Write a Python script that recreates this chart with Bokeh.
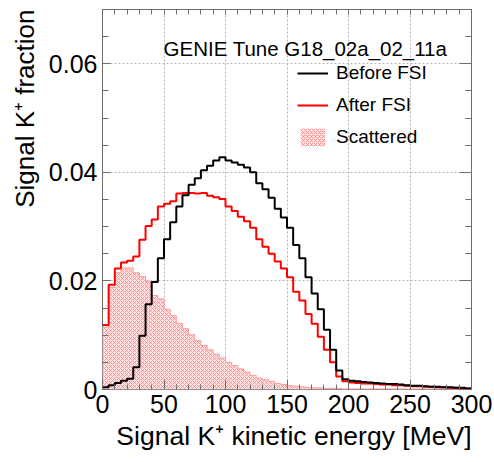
import math
import numpy as np
from bokeh.plotting import figure
from bokeh.models import (LinearAxis, SingleIntervalTicker, CustomJSTickFormatter,
                          Legend, LegendItem, Label, Range1d, Title)
from bokeh.embed import file_html
from bokeh.resources import INLINE

# ---- data: 60 bins of 5 MeV from 0 to 300 MeV ----
bin_edges = list(range(0, 305, 5))

before_fsi = [0.0004, 0.0008, 0.0012, 0.0016, 0.0020, 0.0041, 0.0099, 0.0157, 0.0198, 0.0242,
              0.0277, 0.0308, 0.0337, 0.0358, 0.0377, 0.0389, 0.0404, 0.0412, 0.0422, 0.0428,
              0.0422, 0.0418, 0.0414, 0.0409, 0.0400, 0.0380, 0.0369, 0.0353, 0.0333, 0.0317,
              0.0298, 0.0266, 0.0242, 0.0207, 0.0177, 0.0148, 0.0110, 0.0073, 0.0035, 0.0019,
              0.0016, 0.0015, 0.0014, 0.0013, 0.0012, 0.0011, 0.0010, 0.0010, 0.0009, 0.0008,
              0.0007, 0.0007, 0.0006, 0.0005, 0.0005, 0.0004, 0.0004, 0.0003, 0.0003, 0.0002]

after_fsi = [0.0119, 0.0193, 0.0223, 0.0234, 0.0237, 0.0245, 0.0276, 0.0301, 0.0313, 0.0337,
             0.0342, 0.0347, 0.0361, 0.0362, 0.0362, 0.0361, 0.0362, 0.0357, 0.0354, 0.0351,
             0.0337, 0.0329, 0.0318, 0.0310, 0.0298, 0.0277, 0.0263, 0.0250, 0.0236, 0.0223,
             0.0207, 0.0180, 0.0164, 0.0139, 0.0121, 0.0097, 0.0073, 0.0050, 0.0024, 0.0015,
             0.0013, 0.0012, 0.0011, 0.0011, 0.0010, 0.0009, 0.0009, 0.0008, 0.0008, 0.0007,
             0.0006, 0.0006, 0.0005, 0.0005, 0.0004, 0.0004, 0.0003, 0.0003, 0.0002, 0.0002]

scattered = [0.0115, 0.0188, 0.0215, 0.0224, 0.0224, 0.0215, 0.0208, 0.0199, 0.0173, 0.0167,
             0.0148, 0.0136, 0.0122, 0.0112, 0.0101, 0.0090, 0.0081, 0.0073, 0.0065, 0.0058,
             0.0050, 0.0044, 0.0038, 0.0032, 0.0026, 0.0021, 0.0018, 0.0015, 0.0011, 0.0009,
             0.0007, 0.0006, 0.0005, 0.0004, 0.0003, 0.0003, 0.0002, 0.0002, 0.0002, 0.0001,
             0.0001, 0.0001, 0.0001, 0.0001, 0.0001, 0.0001, 0.0001, 0.0001, 0.0001, 0.0001,
             0.0001, 0.0001, 0.0001, 0.0001, 0.0001, 0.0001, 0.0001, 0.0001, 0.0001, 0.0001]

series_labels = ["Before FSI", "After FSI", "Scattered"]
annotation_text = "GENIE Tune G18_02a_02_11a"
x_title = "Signal K\u207a kinetic energy [MeV]"
y_title = "Signal K\u207a fraction"

FONT = "Liberation Sans"
FRAME = "#6e6e6e"

def step_y(vals):
    return list(vals) + [vals[-1]]

p = figure(width=494, height=462, x_range=Range1d(0, 300), y_range=Range1d(0, 0.07),
           output_backend="svg", toolbar_location=None,
           min_border_left=102, min_border_right=23, min_border_top=9, min_border_bottom=73)
p.background_fill_color = "white"
p.border_fill_color = "white"
p.outline_line_color = FRAME
p.outline_line_width = 1

# grid
for g in (p.xgrid, p.ygrid):
    g.grid_line_color = "#b4b4b4"
    g.grid_line_dash = "2 2"
    g.grid_line_width = 1

xt = SingleIntervalTicker(interval=50, num_minor_ticks=5)
yt = SingleIntervalTicker(interval=0.02, num_minor_ticks=4)
p.xaxis.ticker = xt
p.yaxis.ticker = yt
p.xgrid.ticker = xt
p.ygrid.ticker = yt

p.yaxis.formatter = CustomJSTickFormatter(
    code="return Math.abs(tick) < 1e-9 ? '0' : tick.toFixed(2);")

for ax in (p.xaxis[0], p.yaxis[0]):
    ax.axis_line_color = None
    ax.major_tick_out = 0
    ax.minor_tick_out = 0
    ax.major_tick_line_color = FRAME
    ax.minor_tick_line_color = FRAME
    ax.major_label_text_font = FONT
    ax.major_label_text_font_size = "25px"
    ax.major_label_text_color = "black"

p.xaxis.major_tick_in = 10
p.xaxis.minor_tick_in = 5
p.yaxis.major_tick_in = 8
p.yaxis.minor_tick_in = 6
p.xaxis.major_label_standoff = 5
p.yaxis.major_label_standoff = 5

blank = CustomJSTickFormatter(code="return '';")
top_axis = LinearAxis(ticker=xt, formatter=blank, major_label_standoff=0,
                      major_tick_in=5, major_tick_out=0, minor_tick_in=5, minor_tick_out=0,
                      axis_line_color=None, major_tick_line_color=FRAME,
                      minor_tick_line_color=FRAME)
right_axis = LinearAxis(ticker=yt, formatter=blank, major_label_standoff=0,
                        major_tick_in=12, major_tick_out=0, minor_tick_in=6, minor_tick_out=0,
                        axis_line_color=None, major_tick_line_color=FRAME,
                        minor_tick_line_color=FRAME)
p.add_layout(top_axis, "above")
p.add_layout(right_axis, "right")

# axis titles, aligned to the end of each axis (ROOT style)
p.add_layout(Title(text=x_title, align="right", text_font=FONT, text_font_size="26.5px",
                   text_font_style="normal", text_color="black", standoff=7), "below")
p.add_layout(Title(text=y_title, align="right", text_font=FONT, text_font_size="26px",
                   text_font_style="normal", text_color="black", standoff=12), "left")

# scattered (hatched area)
r_sc = p.varea_step(x=bin_edges, y1=[0] * len(bin_edges), y2=step_y(scattered), step_mode="after",
                    fill_color="#ffe4e4", fill_alpha=1.0,
                    hatch_pattern="diagonal_cross", hatch_color="#ff5050", hatch_alpha=0.5,
                    hatch_scale=4, hatch_weight=1)
p.step(x=bin_edges, y=step_y(scattered), mode="after", line_color="#ff9a9a", line_width=1)

r_after = p.step(x=bin_edges, y=step_y(after_fsi), mode="after", line_color="#ff0000", line_width=2)
r_before = p.step(x=bin_edges, y=step_y(before_fsi), mode="after", line_color="black", line_width=2)

legend = Legend(items=[LegendItem(label=series_labels[0], renderers=[r_before]),
                       LegendItem(label=series_labels[1], renderers=[r_after]),
                       LegendItem(label=series_labels[2], renderers=[r_sc])],
                location=(195, 241), border_line_color=None, background_fill_alpha=0,
                padding=0, margin=0, spacing=10, glyph_width=31, glyph_height=22,
                label_height=22, label_standoff=8, label_text_font=FONT,
                label_text_font_size="19px", label_text_color="black")
p.add_layout(legend)

p.add_layout(Label(x=49.6, y=0.0628, text=annotation_text, text_font=FONT,
                   text_font_size="20.5px", text_baseline="alphabetic", text_color="black"))

open("out.html", "w").write(file_html(p, INLINE))
